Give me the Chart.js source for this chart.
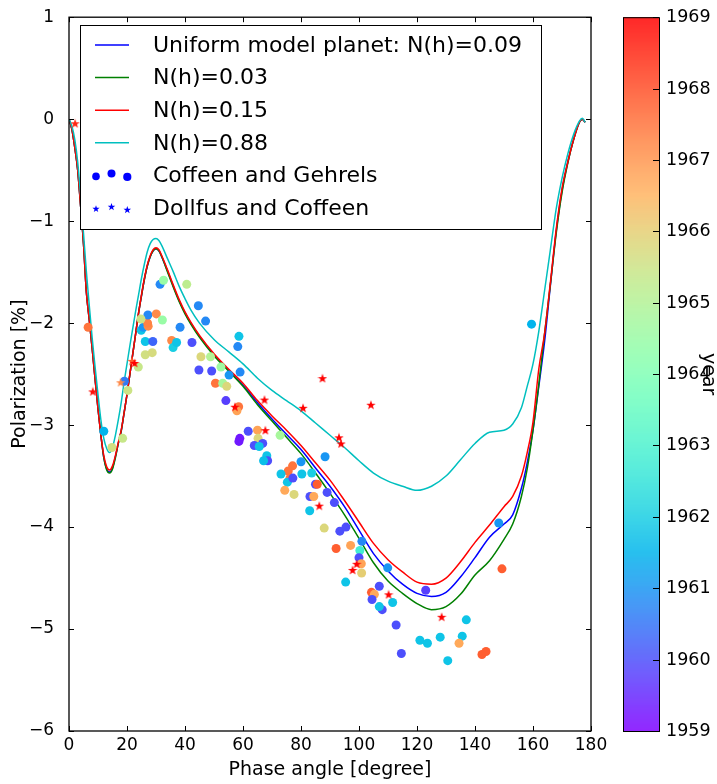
<!DOCTYPE html>
<html>
<head>
<meta charset="utf-8">
<script src="https://cdn.jsdelivr.net/npm/chart.js@4/dist/chart.umd.min.js"></script>
<style>
  html, body { margin: 0; padding: 0; background: #fff; }
</style>
</head>
<body>
<canvas id="chart" width="717" height="784"></canvas>
<script>
// model curves, sampled on a common phase-angle grid
const curveAngles = [0,1,2,3,4,5,6,7,8,9,10,11,12,13,14,15,16,17,18,19,20,21,22,23,24,25,26,27,28,29,30,31,32,
  34,36,38,40,42,45,50,55,60,65,70,75,80,85,90,95,100,105,110,115,120,125,130,135,140,145,150,
  153,156,158,160,162,164,166,168,170,172,174,176,177,178];

const uniform009 = [0,-0.1,-0.28,-0.5,-0.85,-1.22,-1.7,-1.97,-2.25,-2.55,-2.84,-3.1,-3.32,-3.43,-3.46,-3.42,-3.31,-3.18,-3.06,-2.88,-2.7,-2.5,-2.3,-2.1,-1.9,-1.73,-1.57,-1.44,-1.35,-1.29,-1.27,-1.29,-1.35,
  -1.49,-1.64,-1.78,-1.9,-2.0,-2.13,-2.31,-2.46,-2.61,-2.78,-2.94,-3.09,-3.24,-3.42,-3.6,-3.8,-4.03,-4.26,-4.43,-4.56,-4.65,-4.68,-4.64,-4.49,-4.3,-4.1,-3.97,
  -3.88,-3.62,-3.37,-3.05,-2.62,-2.18,-1.63,-1.1,-0.7,-0.42,-0.2,-0.03,0,-0.03];

const nh003 = [0,-0.1,-0.28,-0.5,-0.85,-1.22,-1.7,-1.97,-2.25,-2.55,-2.84,-3.1,-3.32,-3.44,-3.47,-3.43,-3.32,-3.18,-3.06,-2.88,-2.7,-2.5,-2.3,-2.1,-1.9,-1.73,-1.57,-1.44,-1.35,-1.29,-1.27,-1.29,-1.35,
  -1.5,-1.65,-1.79,-1.91,-2.01,-2.14,-2.32,-2.47,-2.62,-2.8,-2.96,-3.12,-3.28,-3.47,-3.67,-3.88,-4.11,-4.35,-4.53,-4.65,-4.75,-4.81,-4.78,-4.66,-4.47,-4.33,-4.12,
  -3.97,-3.7,-3.43,-3.05,-2.6,-2.1,-1.62,-1.12,-0.72,-0.43,-0.2,-0.03,0,-0.03];

const nh015 = [0,-0.1,-0.28,-0.5,-0.85,-1.22,-1.7,-1.97,-2.25,-2.55,-2.84,-3.1,-3.3,-3.41,-3.44,-3.4,-3.3,-3.17,-3.05,-2.88,-2.7,-2.5,-2.3,-2.1,-1.9,-1.72,-1.56,-1.43,-1.34,-1.28,-1.26,-1.28,-1.34,
  -1.48,-1.63,-1.77,-1.89,-1.99,-2.12,-2.3,-2.45,-2.59,-2.76,-2.91,-3.05,-3.2,-3.37,-3.54,-3.74,-3.95,-4.16,-4.32,-4.44,-4.54,-4.56,-4.5,-4.34,-4.15,-3.98,-3.8,
  -3.7,-3.5,-3.27,-2.97,-2.45,-2.1,-1.6,-1.08,-0.68,-0.42,-0.2,-0.03,0,-0.03];

const nh088 = [0,-0.07,-0.2,-0.42,-0.75,-1.12,-1.5,-1.83,-2.15,-2.43,-2.7,-2.95,-3.13,-3.23,-3.27,-3.22,-3.1,-2.95,-2.78,-2.58,-2.4,-2.22,-2.05,-1.88,-1.72,-1.56,-1.42,-1.3,-1.22,-1.18,-1.17,-1.19,-1.24,
  -1.37,-1.5,-1.64,-1.76,-1.87,-2.0,-2.16,-2.28,-2.4,-2.54,-2.66,-2.76,-2.86,-2.98,-3.1,-3.22,-3.35,-3.47,-3.55,-3.6,-3.64,-3.6,-3.5,-3.34,-3.18,-3.07,-3.05,
  -2.99,-2.83,-2.62,-2.4,-2.08,-1.68,-1.28,-0.88,-0.58,-0.34,-0.15,-0.02,0.01,-0.03];

// Coffeen and Gehrels observations
const coffeenAngle = [6.6,12.0,14.8,18.5,19.1,20.3,23.9,26.3,28.7,26.3,28.9,24.9,25.6,27.3,27.1,27.2,24.8,30.1,32.2,31.4,
  32.6,35.4,35.9,37.1,38.3,44.6,47.1,42.4,58.6,58.2,45.5,48.8,44.8,49.2,52.4,55.2,59.0,50.5,53.0,54.4,
  54.1,58.5,57.9,61.8,65.0,65.2,58.9,58.6,72.8,63.9,66.8,65.6,68.2,68.5,67.1,88.3,77.1,75.6,73.1,80.3,
  80.0,76.2,75.3,77.2,85.0,85.6,83.7,74.4,77.6,83.1,84.4,89.0,83.0,91.5,88.0,93.4,95.5,92.1,97.1,101.0,
  100.3,100.0,100.8,100.9,95.4,109.9,107.0,104.3,105.3,104.5,108.0,107.0,111.6,123.0,112.8,114.6,121.0,123.6,128.0,130.6,
  135.6,137.0,134.5,142.4,143.8,148.2,149.3,159.5,40.6];
const coffeenPol = [-2.04,-3.06,-3.22,-3.13,-2.57,-2.66,-2.43,-2.31,-2.29,-2.18,-2.18,-2.07,-2.04,-2.03,-2.00,-1.92,-1.96,-1.91,-1.97,-1.62,
  -1.58,-2.17,-2.24,-2.19,-2.04,-1.83,-1.98,-2.19,-2.13,-2.23,-2.33,-2.33,-2.46,-2.47,-2.43,-2.51,-2.48,-2.59,-2.59,-2.62,
  -2.76,-2.82,-2.86,-3.06,-3.05,-3.13,-3.13,-3.16,-3.10,-3.20,-3.18,-3.21,-3.30,-3.35,-3.35,-3.31,-3.40,-3.45,-3.48,-3.48,
  -3.36,-3.52,-3.56,-3.52,-3.58,-3.58,-3.47,-3.64,-3.68,-3.70,-3.70,-3.66,-3.84,-3.76,-4.01,-4.04,-4.00,-4.21,-4.18,-4.14,
  -4.23,-4.30,-4.36,-4.45,-4.54,-4.40,-4.58,-4.64,-4.66,-4.71,-4.81,-4.78,-4.74,-4.62,-4.96,-5.24,-5.11,-5.14,-5.08,-5.31,
  -5.07,-4.91,-5.14,-5.25,-5.22,-3.96,-4.41,-2.01,-1.62];
const coffeenYear = [1967.5,1961.5,1965.6,1965.4,1960.6,1965.5,1965.4,1965.6,1965.7,1961.8,1960.3,1961.8,1961.0,1967.2,1967.3,1960.8,1965.5,1967.2,1964.5,1960.8,
  1964.5,1967.2,1962.0,1961.8,1960.8,1960.8,1960.8,1960.0,1961.8,1960.8,1965.8,1965.0,1960.0,1960.0,1964.6,1961.0,1960.8,1967.5,1964.8,1965.8,
  1959.8,1967.5,1966.8,1960.0,1966.8,1965.8,1959.3,1959.3,1964.8,1960.0,1960.0,1961.8,1961.8,1960.0,1961.7,1961.0,1967.5,1967.5,1961.8,1961.8,
  1961.0,1967.5,1961.8,1960.0,1960.0,1967.8,1962.0,1966.7,1965.8,1960.0,1966.7,1960.0,1961.8,1960.0,1965.8,1960.0,1960.0,1967.8,1966.8,1960.8,
  1962.8,1960.0,1966.8,1966.0,1961.8,1961.0,1960.0,1967.8,1966.7,1960.0,1960.0,1961.8,1961.8,1959.8,1960.0,1960.0,1961.8,1961.8,1961.8,1961.8,
  1961.8,1961.8,1966.7,1967.8,1967.8,1961.0,1967.8,1961.5,1965.2];

// Dollfus and Coffeen observations
const dollfusAngle = [2.1,8.2,17.8,21.7,22.6,57.2,67.4,80.7,87.4,93.1,93.8,67.7,104.1,86.3,99.2,97.8,110.2,128.5];
const dollfusPol = [-0.04,-2.67,-2.58,-2.37,-2.39,-2.82,-2.75,-2.83,-2.54,-3.12,-3.18,-3.05,-2.80,-3.79,-4.36,-4.42,-4.66,-4.88];
const dollfusYear = [1968.5,1968.8,1967.2,1967.8,1969,1969,1969,1969,1969,1969,1969,1969,1969,1969,1969,1969,1969,1969];

const yearMin = 1959, yearMax = 1969;
const colorbarTicks = [1959,1960,1961,1962,1963,1964,1965,1966,1967,1968,1969];
const seriesLabels = ['Uniform model planet: N(h)=0.09', 'N(h)=0.03', 'N(h)=0.15', 'N(h)=0.88', 'Coffeen and Gehrels', 'Dollfus and Coffeen'];
const lineColors = ['#0000ff', '#008000', '#ff0000', '#00bfbf'];

const FONT = '"DejaVu Sans", "Bitstream Vera Sans", sans-serif';

// matplotlib "rainbow" colormap
function rainbow(year) {
    const t = Math.min(1, Math.max(0, (year - yearMin) / (yearMax - yearMin)));
    const r = Math.min(1, Math.abs(2 * t - 0.5));
    const g = Math.sin(t * Math.PI);
    const b = Math.cos(t * Math.PI / 2);
    return 'rgb(' + Math.round(r * 255) + ',' + Math.round(g * 255) + ',' + Math.round(b * 255) + ')';
}

function starPath(ctx, cx, cy, R) {
    const r = R * 0.4;
    ctx.beginPath();
    for (let i = 0; i < 10; i++) {
        const rad = i % 2 === 0 ? R : r;
        const a = -Math.PI / 2 + i * Math.PI / 5;
        ctx.lineTo(cx + rad * Math.cos(a), cy + rad * Math.sin(a));
    }
    ctx.closePath();
}

function starImage(color, size) {
    const c = document.createElement('canvas');
    c.width = c.height = size;
    const g = c.getContext('2d');
    starPath(g, size / 2, size / 2 + 0.5, size / 2);
    g.fillStyle = color;
    g.fill();
    return c;
}

const minus = v => v < 0 ? '\u2212' + Math.abs(v) : String(v);

// matplotlib draws blue first, cyan last -> cyan on top
const lineSets = [uniform009, nh003, nh015, nh088].map((ys, i) => ({
    label: seriesLabels[i],
    data: curveAngles.map((x, j) => ({ x: x, y: ys[j] })),
    showLine: true,
    borderColor: lineColors[i],
    borderWidth: 1.5,
    pointRadius: 0,
    cubicInterpolationMode: 'monotone',
    order: 10 - i
}));

const coffeenSet = {
    label: seriesLabels[4],
    data: coffeenAngle.map((x, i) => ({ x: x, y: coffeenPol[i] })),
    backgroundColor: coffeenYear.map(rainbow),
    borderWidth: 0,
    pointRadius: 4.5,
    order: 1
};

const dollfusSet = {
    label: seriesLabels[5],
    data: dollfusAngle.map((x, i) => ({ x: x, y: dollfusPol[i] })),
    pointStyle: dollfusYear.map(y => starImage(rainbow(y), 10)),
    pointRadius: 5,
    order: 0
};

// frame, inward ticks, legend box and colorbar
const decorations = {
    id: 'decorations',
    afterDatasetsDraw(chart) {
        const ctx = chart.ctx;
        const a = chart.chartArea;
        const xs = chart.scales.x, ys = chart.scales.y;
        ctx.save();
        ctx.strokeStyle = '#000';
        ctx.lineWidth = 1;
        xs.ticks.forEach(t => {
            const px = Math.round(xs.getPixelForValue(t.value)) + 0.5;
            ctx.beginPath();
            ctx.moveTo(px, a.bottom); ctx.lineTo(px, a.bottom - 5);
            ctx.moveTo(px, a.top); ctx.lineTo(px, a.top + 5);
            ctx.stroke();
        });
        ys.ticks.forEach(t => {
            const py = Math.round(ys.getPixelForValue(t.value)) + 0.5;
            ctx.beginPath();
            ctx.moveTo(a.left, py); ctx.lineTo(a.left + 5, py);
            ctx.moveTo(a.right, py); ctx.lineTo(a.right - 5, py);
            ctx.stroke();
        });
        ctx.lineWidth = 1.3;
        ctx.strokeRect(a.left, a.top, a.right - a.left, a.bottom - a.top);

        // legend
        const lx = 80.5, ly = 25.5, lw = 461, lh = 204;
        ctx.fillStyle = '#fff';
        ctx.fillRect(lx, ly, lw, lh);
        ctx.lineWidth = 1;
        ctx.strokeStyle = '#000';
        ctx.strokeRect(lx, ly, lw, lh);
        ctx.font = '22px ' + FONT;
        ctx.textBaseline = 'middle';
        ctx.textAlign = 'left';
        seriesLabels.forEach((lab, i) => {
            const ry = 45 + i * 32.6;
            if (i < 4) {
                ctx.strokeStyle = lineColors[i];
                ctx.lineWidth = 1.5;
                ctx.beginPath();
                ctx.moveTo(95, ry); ctx.lineTo(129, ry);
                ctx.stroke();
            } else if (i === 4) {
                ctx.fillStyle = '#0000ff';
                [[96, 1, 3.8], [111.5, -2, 4], [127.3, 1.5, 4.1]].forEach(d => {
                    ctx.beginPath();
                    ctx.arc(d[0], ry + d[1], d[2], 0, Math.PI * 2);
                    ctx.fill();
                });
            } else {
                ctx.fillStyle = '#0000ff';
                [[96, 1, 3.8], [111.5, -1, 4], [127.3, 2, 4]].forEach(d => {
                    starPath(ctx, d[0], ry + d[1], d[2]);
                    ctx.fill();
                });
            }
            ctx.fillStyle = '#000';
            ctx.fillText(lab, 153, ry + 1);
        });

        // colorbar
        const cx0 = 623, cx1 = 659, cy0 = a.top, cy1 = a.bottom;
        for (let py = cy0; py < cy1; py++) {
            const yr = yearMax - (py + 0.5 - cy0) / (cy1 - cy0) * (yearMax - yearMin);
            ctx.fillStyle = rainbow(yr);
            ctx.fillRect(cx0, py, cx1 - cx0, 1);
        }
        ctx.strokeStyle = '#000';
        ctx.lineWidth = 1;
        ctx.strokeRect(cx0 + 0.5, cy0 + 0.5, cx1 - cx0, cy1 - cy0);
        ctx.font = '17.5px ' + FONT;
        ctx.fillStyle = '#000';
        ctx.textBaseline = 'middle';
        colorbarTicks.forEach(yr => {
            const py = Math.round(cy1 - (yr - yearMin) / (yearMax - yearMin) * (cy1 - cy0)) + 0.5;
            ctx.beginPath();
            ctx.moveTo(cx1, py); ctx.lineTo(cx1 - 6, py);
            ctx.stroke();
            ctx.fillText(String(yr), 666, py);
        });
        ctx.save();
        ctx.translate(708, (cy0 + cy1) / 2);
        ctx.rotate(Math.PI / 2);
        ctx.textAlign = 'center';
        ctx.font = '19px ' + FONT;
        ctx.fillText('year', 0, 0);
        ctx.restore();
        ctx.restore();
    }
};

new Chart(document.getElementById('chart'), {
    type: 'scatter',
    data: { datasets: [dollfusSet, coffeenSet].concat(lineSets) },
    options: {
        responsive: false,
        devicePixelRatio: 1,
        animation: false,
        events: [],
        layout: { padding: { left: 0, right: 126, top: 14, bottom: 0 } },
        plugins: { legend: { display: false }, tooltip: { enabled: false } },
        scales: {
            x: {
                type: 'linear', min: 0, max: 180,
                grid: { display: false }, border: { display: false },
                ticks: { stepSize: 20, color: '#000', padding: -4, font: { family: FONT, size: 17 }, maxRotation: 0 },
                title: { display: true, text: 'Phase angle [degree]', color: '#000', font: { family: FONT, size: 19 }, padding: { top: 0, bottom: 3 } },
                afterFit: s => { s.height = 53; }
            },
            y: {
                type: 'linear', min: -6, max: 1,
                grid: { display: false }, border: { display: false },
                ticks: { stepSize: 1, color: '#000', padding: 7, font: { family: FONT, size: 17 }, callback: minus },
                title: { display: true, text: 'Polarization [%]', color: '#000', font: { family: FONT, size: 19 }, padding: { top: 9, bottom: 0 } },
                afterFit: s => { s.width = 69; }
            }
        }
    },
    plugins: [decorations]
});
</script>
</body>
</html>
